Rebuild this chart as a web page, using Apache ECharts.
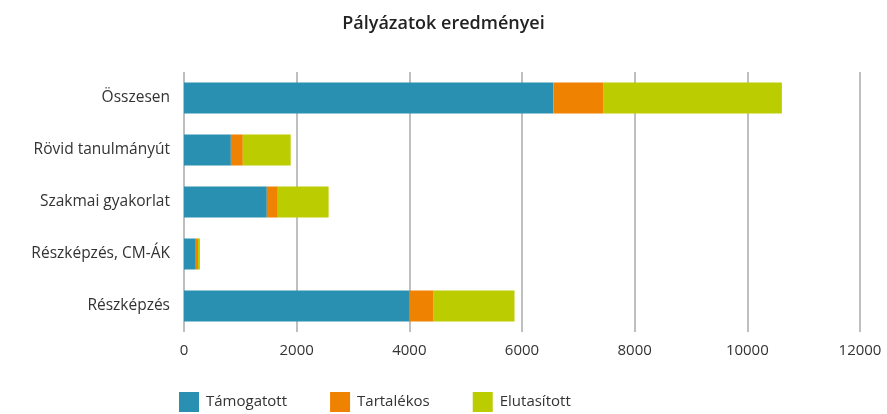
<!DOCTYPE html>
<html>
<head>
<meta charset="utf-8">
<script src="https://cdn.jsdelivr.net/npm/echarts@6/dist/echarts.min.js"></script>
<style>
  html, body { margin: 0; padding: 0; background: #fff; }
  #chart { width: 887px; height: 414px; }
</style>
</head>
<body>
<div id="chart"></div>
<script>
// categories bottom -> top (ECharts category y axis starts at bottom)
const categories = ['Részképzés', 'Részképzés, CM-ÁK', 'Szakmai gyakorlat', 'Rövid tanulmányút', 'Összesen']
const tamogatott = [4006, 195, 1470, 832, 6557]
const tartalekos = [425, 53, 195, 212, 883]
const elutasitott = [1436, 35, 902, 850, 3173]
const xTicks = [0, 2000, 4000, 6000, 8000, 10000, 12000]

const colors = ['#2A90B2', '#EF8200', '#BBCC00']
const font = 'Open Sans'

const chart = echarts.init(document.getElementById('chart'))

function bar(name, data, color) {
  return {
    name,
    type: 'bar',
    stack: 'total',
    data,
    barWidth: 31,
    itemStyle: { color },
    emphasis: { disabled: true }
  }
}

chart.setOption({
  animation: false,
  title: {
    text: 'Pályázatok eredményei',
    left: 'center',
    top: 10,
    textStyle: { fontFamily: font, fontSize: 18, fontWeight: 600, color: '#222' }
  },
  legend: {
    left: 174,
    top: 387,
    itemWidth: 20,
    itemHeight: 20,
    itemGap: 43,
    icon: 'rect',
    textStyle: { fontFamily: font, fontSize: 15, color: '#333', padding: [0, 0, 0, 2] },
    data: ['Támogatott', 'Tartalékos', 'Elutasított']
  },
  grid: { left: 184, right: 27, top: 72, bottom: 82 },
  xAxis: {
    type: 'value',
    min: xTicks[0],
    max: xTicks[xTicks.length - 1],
    interval: 2000,
    axisLine: { show: false },
    axisTick: { show: false },
    axisLabel: { fontFamily: font, fontSize: 15, color: '#333', margin: 11, formatter: v => String(v) },
    splitLine: { lineStyle: { color: '#aaa', width: 1.5 } }
  },
  yAxis: {
    type: 'category',
    data: categories,
    axisLine: { show: false },
    axisTick: { show: false },
    axisLabel: { fontFamily: font, fontSize: 15.5, color: '#333', margin: 14 }
  },
  series: [
    bar('Támogatott', tamogatott, colors[0]),
    bar('Tartalékos', tartalekos, colors[1]),
    bar('Elutasított', elutasitott, colors[2])
  ]
})
</script>
</body>
</html>
